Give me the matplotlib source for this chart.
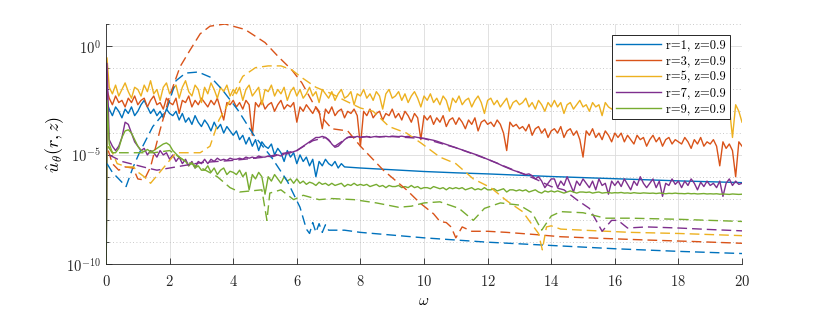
import numpy as np
import matplotlib.pyplot as plt
from matplotlib.ticker import FixedLocator, NullFormatter

plt.rcParams['mathtext.fontset'] = 'cm'
plt.rcParams['font.family'] = ['DejaVu Serif']

# colours (MATLAB default order)
c1, c3, c5, c7, c9 = '#0072BD', '#D95319', '#EDB120', '#7E2F8E', '#77AC30'

# ---- solid curves: log10 values on the grid w = 0.1, 0.2, ..., 20.0 ----
# first point of each curve is the w=0 value (drops below the axis), second is the spike near w=0
w_start = [0.0, 0.03]

s5_start = [-12, -0.55]
s5 = [-1.9, -2.2, -1.8, -2.3, -2.0, -1.7, -2.1, -2.4, -1.9, -2.0,
      -2.3, -1.8, -2.1, -1.6, -2.2, -2.0, -2.5, -1.9, -1.7, -2.2,
      -2.0, -1.8, -2.4, -1.9, -1.6, -2.1, -2.3, -1.8, -2.0, -2.6,
      -1.9, -2.2, -1.7, -2.0, -2.4, -1.9, -2.1, -1.8, -2.3, -2.0,
      -2.2, -1.9, -2.5, -2.0, -1.8, -2.3, -2.1, -1.9, -2.7, -2.0,
      -2.1, -1.8, -2.3, -2.0, -2.2, -1.9, -2.5, -2.1, -1.9, -2.3,
      -2.0, -2.4, -2.2, -1.9, -2.3, -2.1, -2.6, -2.0, -2.2, -2.4,
      -2.1, -2.5, -2.2, -2.0, -2.4, -2.3, -2.1, -2.7, -2.2, -2.3,
      -2.0, -2.4, -2.2, -2.5, -2.1, -2.3, -2.9, -2.2, -2.0, -2.4,
      -2.3, -2.1, -2.5, -2.2, -2.6, -2.3, -2.1, -2.4, -2.8, -2.3,
      -2.5, -2.2, -2.6, -2.4, -2.7, -2.3, -2.5, -3.0, -2.4, -2.6,
      -2.3, -2.7, -2.5, -2.4, -2.8, -2.5, -2.3, -2.6, -3.1, -2.5,
      -2.4, -2.7, -2.5, -2.8, -2.6, -2.4, -2.9, -2.6, -2.5, -2.7,
      -2.6, -2.4, -2.8, -2.6, -2.9, -2.5, -2.7, -3.0, -2.6, -2.8,
      -2.5, -2.8, -2.6, -3.1, -2.7, -2.6, -2.9, -2.7, -2.5, -2.8,
      -2.7, -3.0, -2.6, -2.8, -2.7, -3.2, -2.6, -2.8, -2.9, -2.7,
      -2.8, -2.6, -2.9, -2.7, -3.0, -2.8, -2.7, -2.9, -2.6, -2.8,
      -2.9, -2.7, -2.8, -3.0, -2.7, -2.9, -2.8, -2.6, -2.9, -2.8,
      -2.7, -2.9, -3.1, -2.8, -2.7, -2.9, -2.8, -3.0, -2.7, -2.8,
      -2.9, -2.7, -3.0, -2.8, -2.6, -2.8, -4.2, -2.7, -3.0, -3.5]

s3_start = [-12, -2.0]
s3 = [-2.4, -2.7, -2.3, -2.6, -2.5, -2.8, -2.4, -2.6, -2.3, -2.7,
      -2.5, -2.4, -2.8, -2.5, -2.3, -2.7, -2.6, -2.9, -2.4, -2.6,
      -2.7, -2.4, -3.1, -2.5, -2.6, -2.3, -2.8, -2.5, -2.7, -2.4,
      -2.6, -2.8, -2.5, -2.7, -2.4, -2.9, -3.4, -2.6, -2.7, -2.5,
      -2.8, -2.6, -2.9, -2.5, -2.7, -4.1, -2.6, -2.8, -2.5, -2.9,
      -2.7, -2.6, -3.0, -2.7, -2.5, -2.9, -2.7, -2.8, -2.6, -3.5,
      -2.8, -3.0, -2.7, -2.9, -3.1, -2.8, -3.0, -3.8, -2.9, -3.1,
      -2.8, -3.2, -3.0, -2.9, -3.3, -3.0, -3.1, -2.9, -3.2, -4.6,
      -3.0, -3.2, -2.9, -3.3, -3.1, -3.0, -3.4, -3.1, -3.2, -2.9,
      -3.3, -3.1, -3.4, -3.0, -3.2, -3.5, -3.1, -3.3, -4.3, -3.2,
      -3.4, -3.2, -3.6, -3.3, -3.5, -3.2, -3.7, -3.4, -3.3, -3.6,
      -3.3, -3.5, -3.8, -3.4, -3.6, -3.3, -3.9, -3.5, -3.4, -3.6,
      -3.5, -3.7, -3.4, -3.6, -4.0, -4.8, -3.5, -3.7, -3.6, -3.8,
      -3.7, -3.9, -3.6, -4.1, -3.8, -3.7, -4.0, -3.8, -4.2, -3.9,
      -3.8, -4.0, -3.7, -4.2, -3.9, -3.8, -4.1, -3.9, -4.3, -5.1,
      -3.9, -4.1, -3.8, -4.2, -4.0, -4.3, -3.9, -4.1, -4.4, -4.0,
      -4.2, -4.0, -4.4, -4.1, -4.3, -4.5, -4.1, -4.3, -4.2, -4.6,
      -4.3, -4.1, -4.4, -4.2, -4.6, -4.3, -4.2, -4.5, -4.3, -4.4,
      -4.5, -4.2, -4.4, -4.7, -4.3, -4.5, -4.2, -4.6, -4.4, -4.5,
      -4.3, -4.6, -5.5, -4.4, -4.7, -4.5, -4.8, -6.0, -4.4, -4.6]

# r=1: noisy part on the 0.1 grid up to w=7.5, then a smooth tail
s1_start = [-12, -2.6]
s1 = [-2.9, -3.2, -2.8, -3.0, -3.3, -2.9, -3.1, -2.8, -3.2, -3.0,
      -2.7, -2.5, -2.8, -3.1, -2.9, -3.2, -3.0, -3.3, -2.9, -3.1,
      -3.2, -3.0, -3.4, -3.1, -3.5, -3.3, -3.6, -3.2, -3.5, -3.7,
      -3.4, -3.6, -3.9, -3.5, -3.8, -3.6, -4.0, -3.7, -3.9, -4.1,
      -3.9, -4.3, -4.1, -4.5, -4.2, -4.6, -4.3, -4.8, -4.4, -4.6,
      -4.7, -4.5, -5.0, -4.7, -4.9, -5.3, -4.8, -5.1, -4.9, -5.4,
      -5.0, -5.3, -5.1, -5.5, -5.2, -6.0, -5.3, -5.5, -5.2, -5.4,
      -5.5, -5.3, -5.6, -5.4, -5.55]
w1_tail = [8, 9, 10, 11, 12, 13, 14, 15, 16, 17, 18, 19, 20]
s1_tail = [-5.6, -5.68, -5.76, -5.82, -5.87, -5.93, -5.99, -6.04, -6.09, -6.14, -6.19, -6.23, -6.27]

s7_start = [-12, -0.8]
s7 = [-4.3, -4.6, -4.8, -4.6, -4.2, -3.5, -3.6, -4.0, -4.4, -4.6,
      -4.8, -4.7, -5.0, -4.8, -4.9, -5.1, -4.8, -5.0, -4.9, -5.2,
      -5.0, -5.3, -5.1, -5.4, -5.2, -5.5, -5.3, -5.6, -5.3, -5.4,
      -5.2, -5.4, -5.2, -5.3, -5.15, -5.25, -5.2, -5.25, -5.15, -5.2,
      -5.2, -5.15, -5.2, -5.1, -5.15, -5.1, -5.15, -5.05, -5.1, -5.1,
      -5.05, -5.1, -5.05, -5.0, -5.05, -4.95, -4.95, -4.9, -4.85, -4.8,
      -4.7, -4.6, -4.5, -4.4, -4.3, -4.2, -4.2, -4.15, -4.2, -4.3,
      -4.5, -4.65, -4.6, -4.45, -4.3, -4.2, -4.15, -4.2, -4.15, -4.2,
      -4.18, -4.15, -4.2, -4.17, -4.15, -4.18, -4.16, -4.15, -4.17, -4.14,
      -4.15, -4.16, -4.14, -4.17, -4.15, -4.18, -4.17, -4.2, -4.22, -4.24,
      -4.27, -4.3, -4.33, -4.37, -4.42, -4.47, -4.52, -4.57, -4.62, -4.67,
      -4.72, -4.77, -4.82, -4.87, -4.92, -4.97, -5.02, -5.08, -5.14, -5.2,
      -5.26, -5.32, -5.38, -5.45, -5.52, -5.58, -5.64, -5.7, -5.75, -5.8,
      -5.85, -5.9, -5.87, -5.95, -6.1, -6.0, -6.2, -6.5, -6.3, -6.1,
      -6.1, -6.5, -6.2, -6.4, -6.0, -6.35, -6.7, -6.2, -6.4, -6.1,
      -6.3, -6.5, -6.2, -6.6, -6.1, -6.4, -6.3, -6.8, -6.2, -6.4,
      -6.2, -6.45, -6.1, -6.35, -6.6, -6.2, -6.4, -6.0, -6.3, -6.5,
      -6.3, -6.1, -6.5, -6.2, -6.9, -6.3, -6.4, -6.1, -6.35, -6.2,
      -6.5, -6.2, -6.4, -6.1, -6.3, -6.6, -6.25, -6.45, -6.2, -6.4,
      -6.3, -6.5, -6.2, -6.9, -6.3, -6.1, -6.4, -6.2, -6.35, -6.3]

s9_start = [-12, -2.5]
s9 = [-4.5, -4.9, -4.9, -4.7, -4.2, -3.9, -3.85, -4.0, -4.3, -4.6,
      -4.8, -4.85, -4.75, -4.85, -4.8, -4.7, -4.6, -4.5, -4.45, -4.55,
      -4.8, -4.95, -5.1, -5.2, -5.3, -5.5, -5.35, -5.6, -5.5, -5.7,
      -5.7, -5.5, -5.8, -5.6, -5.9, -5.7, -5.6, -5.9, -5.75, -5.8,
      -5.9, -5.7, -6.0, -5.8, -6.6, -5.9, -6.1, -5.8, -6.0, -6.8,
      -6.0, -6.2, -5.9, -6.1, -6.3, -6.0, -6.2, -6.1, -6.3, -6.1,
      -6.3, -6.2, -6.35, -6.25, -6.3, -6.4, -6.25, -6.35, -6.3, -6.4,
      -6.3, -6.4, -6.35, -6.3, -6.45, -6.35, -6.4, -6.3, -6.4, -6.35,
      -6.4, -6.35, -6.45, -6.4, -6.35, -6.45, -6.4, -6.5, -6.4, -6.45,
      -6.45, -6.4, -6.5, -6.45, -6.5, -6.4, -6.5, -6.45, -6.55, -6.5,
      -6.5, -6.55, -6.45, -6.5, -6.55, -6.5, -6.6, -6.5, -6.55, -6.5,
      -6.55, -6.5, -6.6, -6.55, -6.5, -6.6, -6.55, -6.6, -6.5, -6.6,
      -6.6, -6.55, -6.65, -6.6, -6.55, -6.7, -6.6, -6.6, -6.65, -6.6,
      -6.65, -6.6, -6.7, -6.65, -6.6, -6.7, -6.75, -6.65, -6.7, -6.65,
      -6.7, -6.65, -6.7, -6.75, -6.7, -6.65, -6.7, -6.75, -6.7, -6.7,
      -6.72, -6.7, -6.75, -6.72, -6.7, -6.75, -6.73, -6.72, -6.75, -6.73,
      -6.74, -6.72, -6.75, -6.74, -6.76, -6.73, -6.75, -6.76, -6.74, -6.75,
      -6.76, -6.75, -6.77, -6.75, -6.76, -6.78, -6.76, -6.77, -6.75, -6.77,
      -6.77, -6.78, -6.76, -6.78, -6.77, -6.79, -6.78, -6.77, -6.79, -6.78,
      -6.79, -6.78, -6.8, -6.79, -6.8, -6.81, -6.79, -6.8, -6.81, -6.8]

# ---- dashed curves: (w, log10 value) pairs ----
d1_w = [0.03, 0.2, 0.4, 0.63, 0.84, 1.05, 1.47, 1.9, 2.2, 2.5, 2.9, 3.3, 3.65, 4.15, 4.65,
        5.2, 5.7, 6.1, 6.3, 6.4, 6.5, 6.6, 6.7, 6.8, 6.9, 7.0, 7.5, 8, 10, 12, 14, 16, 18, 20]
d1 = [-5.4, -5.8, -6.1, -6.45, -5.6, -4.9, -3.7, -2.95, -1.6, -1.25, -1.2, -1.45, -2.0, -2.95,
      -4.1, -5.1, -6.2, -7.4, -8.4, -8.6, -8.1, -8.55, -8.15, -8.55, -8.2, -8.45, -8.45,
      -8.55, -8.8, -9.0, -9.15, -9.3, -9.42, -9.52]

d3_w = [0.07, 0.2, 0.4, 0.6, 0.85, 1.0, 1.2, 1.4, 1.7, 2.0, 2.33, 2.64, 2.96, 3.27, 3.74, 4.37,
        5.0, 5.42, 5.84, 6.16, 6.5, 6.8, 7.1, 7.6, 8.0, 8.72, 9.45, 9.87, 10.3, 10.5, 10.7,
        10.85, 11.0, 11.2, 11.5, 12.0, 12.6, 13.5, 14.3, 15.5, 17, 18.5, 20]
d3 = [-4.8, -5.4, -5.7, -5.55, -5.6, -6.1, -6.15, -5.55, -3.85, -2.3, -0.95, -0.2, 0.55, 0.9,
      1.0, 0.75, 0.15, -0.5, -1.1, -1.7, -2.6, -3.3, -3.8, -3.9, -4.6, -5.7, -6.6, -7.2,
      -7.7, -8.05, -8.1, -8.3, -8.8, -8.3, -8.5, -8.5, -8.55, -8.65, -8.75, -8.82, -8.9,
      -8.97, -9.05]

d5_w = [0.07, 0.2, 0.35, 0.66, 0.87, 0.97, 1.2, 1.4, 1.8, 2.2, 2.96, 3.27, 3.55, 3.9, 4.3,
        4.7, 5.1, 5.5, 5.84, 6.15, 6.6, 7.1, 7.5, 8.0, 8.4, 8.9, 9.45, 9.9, 10.5, 11.0,
        11.55, 12.1, 12.6, 13.1, 13.6, 13.72, 13.85, 14.0, 14.3, 15.0, 16.5, 18, 20]
d5 = [-4.6, -4.9, -5.4, -5.55, -5.55, -5.75, -6.0, -6.3, -5.6, -4.9, -4.9, -4.6, -3.4, -2.5,
      -1.4, -1.0, -0.92, -0.92, -1.1, -1.45, -1.9, -2.2, -2.5, -2.85, -3.0, -3.7, -4.0,
      -4.45, -5.1, -5.4, -6.1, -6.5, -7.1, -7.6, -8.6, -9.35, -8.3, -8.25, -8.4, -8.45,
      -8.55, -8.6, -8.7]

d7_w = [0.1, 0.5, 0.9, 1.3, 1.6, 2.0, 3.0, 4.0, 5.0, 6.0, 6.5, 6.9, 7.2, 7.6, 8, 9, 10, 11,
        12, 13, 13.5, 14.0, 14.4, 14.8, 15.2, 15.6, 15.9, 16.1, 16.4, 17, 18, 19, 20]
d7 = [-5.0, -5.3, -5.45, -5.6, -5.7, -5.6, -5.35, -5.25, -5.1, -4.8, -4.35, -4.2, -4.6, -4.2,
      -4.17, -4.16, -4.25, -4.67, -5.2, -5.8, -6.1, -6.45, -6.6, -7.05, -7.45, -8.5, -8.0,
      -8.0, -8.35, -8.3, -8.35, -8.42, -8.48]

d9_w = [0.05, 0.2, 0.5, 0.75, 1.0, 1.5, 2.0, 2.5, 3.0, 3.5, 3.9, 4.2, 4.9, 5.06, 5.15, 5.5,
        5.9, 6.2, 6.7, 7.1, 7.8, 8.5, 9.2, 9.6, 10.0, 10.5, 11.1, 11.55, 11.9, 12.4, 13.0,
        13.4, 13.7, 14.0, 14.3, 15.0, 15.7, 16.5, 18, 20]
d9 = [-4.6, -4.9, -4.9, -4.9, -4.9, -4.9, -4.8, -5.3, -5.6, -6.0, -6.5, -6.7, -6.6, -8.0,
      -6.75, -6.6, -7.05, -6.85, -7.05, -7.0, -7.05, -7.2, -7.4, -7.35, -7.2, -7.15, -7.45,
      -8.0, -7.45, -7.2, -7.3, -7.65, -8.45, -7.8, -7.6, -7.65, -7.9, -7.9, -7.95, -8.05]

labels = ['r=1, z=0.9', 'r=3, z=0.9', 'r=5, z=0.9', 'r=7, z=0.9', 'r=9, z=0.9']

w_grid = np.round(np.arange(1, 201) * 0.1, 1)

fig = plt.figure(figsize=(8.22, 3.09), dpi=100)
ax = fig.add_axes([0.129, 0.1456, 0.7737, 0.7767])

lw = 1.0
solid = [
    (w_start + list(w_grid[:len(s1)]) + w1_tail, s1_start + s1 + s1_tail, c1),
    (w_start + list(w_grid), s3_start + s3, c3),
    (w_start + list(w_grid), s5_start + s5, c5),
    (w_start + list(w_grid), s7_start + s7, c7),
    (w_start + list(w_grid), s9_start + s9, c9),
]
for (x, y, c), lab in zip(solid, labels):
    ax.plot(x, 10.0 ** np.array(y), color=c, lw=lw, label=lab)

dashed = [(d1_w, d1, c1), (d3_w, d3, c3), (d5_w, d5, c5), (d7_w, d7, c7), (d9_w, d9, c9)]
for x, y, c in dashed:
    ax.plot(x, 10.0 ** np.array(y), color=c, lw=lw, ls=(0, (7, 3.6)))

ax.set_yscale('log')
ax.set_xlim(0, 20)
ax.set_ylim(1e-10, 1e1)

ax.set_xticks(np.arange(0, 21, 2))
ax.set_xticklabels([r'$%d$' % v for v in range(0, 21, 2)])
ax.yaxis.set_major_locator(FixedLocator([1e-10, 1e-5, 1e0]))
ax.set_yticklabels([r'$10^{-10}$', r'$10^{-5}$', r'$10^{0}$'])
ax.yaxis.set_minor_locator(FixedLocator([10.0 ** k for k in range(-9, 2) if k not in (-5, 0)]))
ax.yaxis.set_minor_formatter(NullFormatter())

ax.grid(True, which='major', color='#dcdcdc', lw=0.6)
ax.grid(True, which='minor', axis='y', color='#b8b8b8', lw=0.6, ls=(0, (1, 3)))
ax.set_axisbelow(True)

for side in ['top', 'right']:
    ax.spines[side].set_visible(False)
for side in ['left', 'bottom']:
    ax.spines[side].set_color('#262626')
    ax.spines[side].set_linewidth(0.6)
ax.tick_params(which='both', direction='in', colors='#262626', labelsize=10.5, width=0.6)
ax.tick_params(which='major', length=4)
ax.tick_params(which='minor', length=2.5)
ax.tick_params(axis='x', pad=7)

ax.set_xlabel(r'$\omega$', fontsize=11, labelpad=4)
ax.set_ylabel(r'$\hat{u}_\theta(r,z)$', fontsize=13, labelpad=0.5)

leg = ax.legend(loc='upper right', bbox_to_anchor=(0.981, 0.954), borderaxespad=0,
                fancybox=False, framealpha=1, edgecolor='#262626',
                prop={'family': 'cmr10', 'size': 9},
                handlelength=3.6, handletextpad=0.4, labelspacing=0.3, borderpad=0.35)
leg.get_frame().set_linewidth(0.7)

fig.savefig('out.png', dpi=100)
